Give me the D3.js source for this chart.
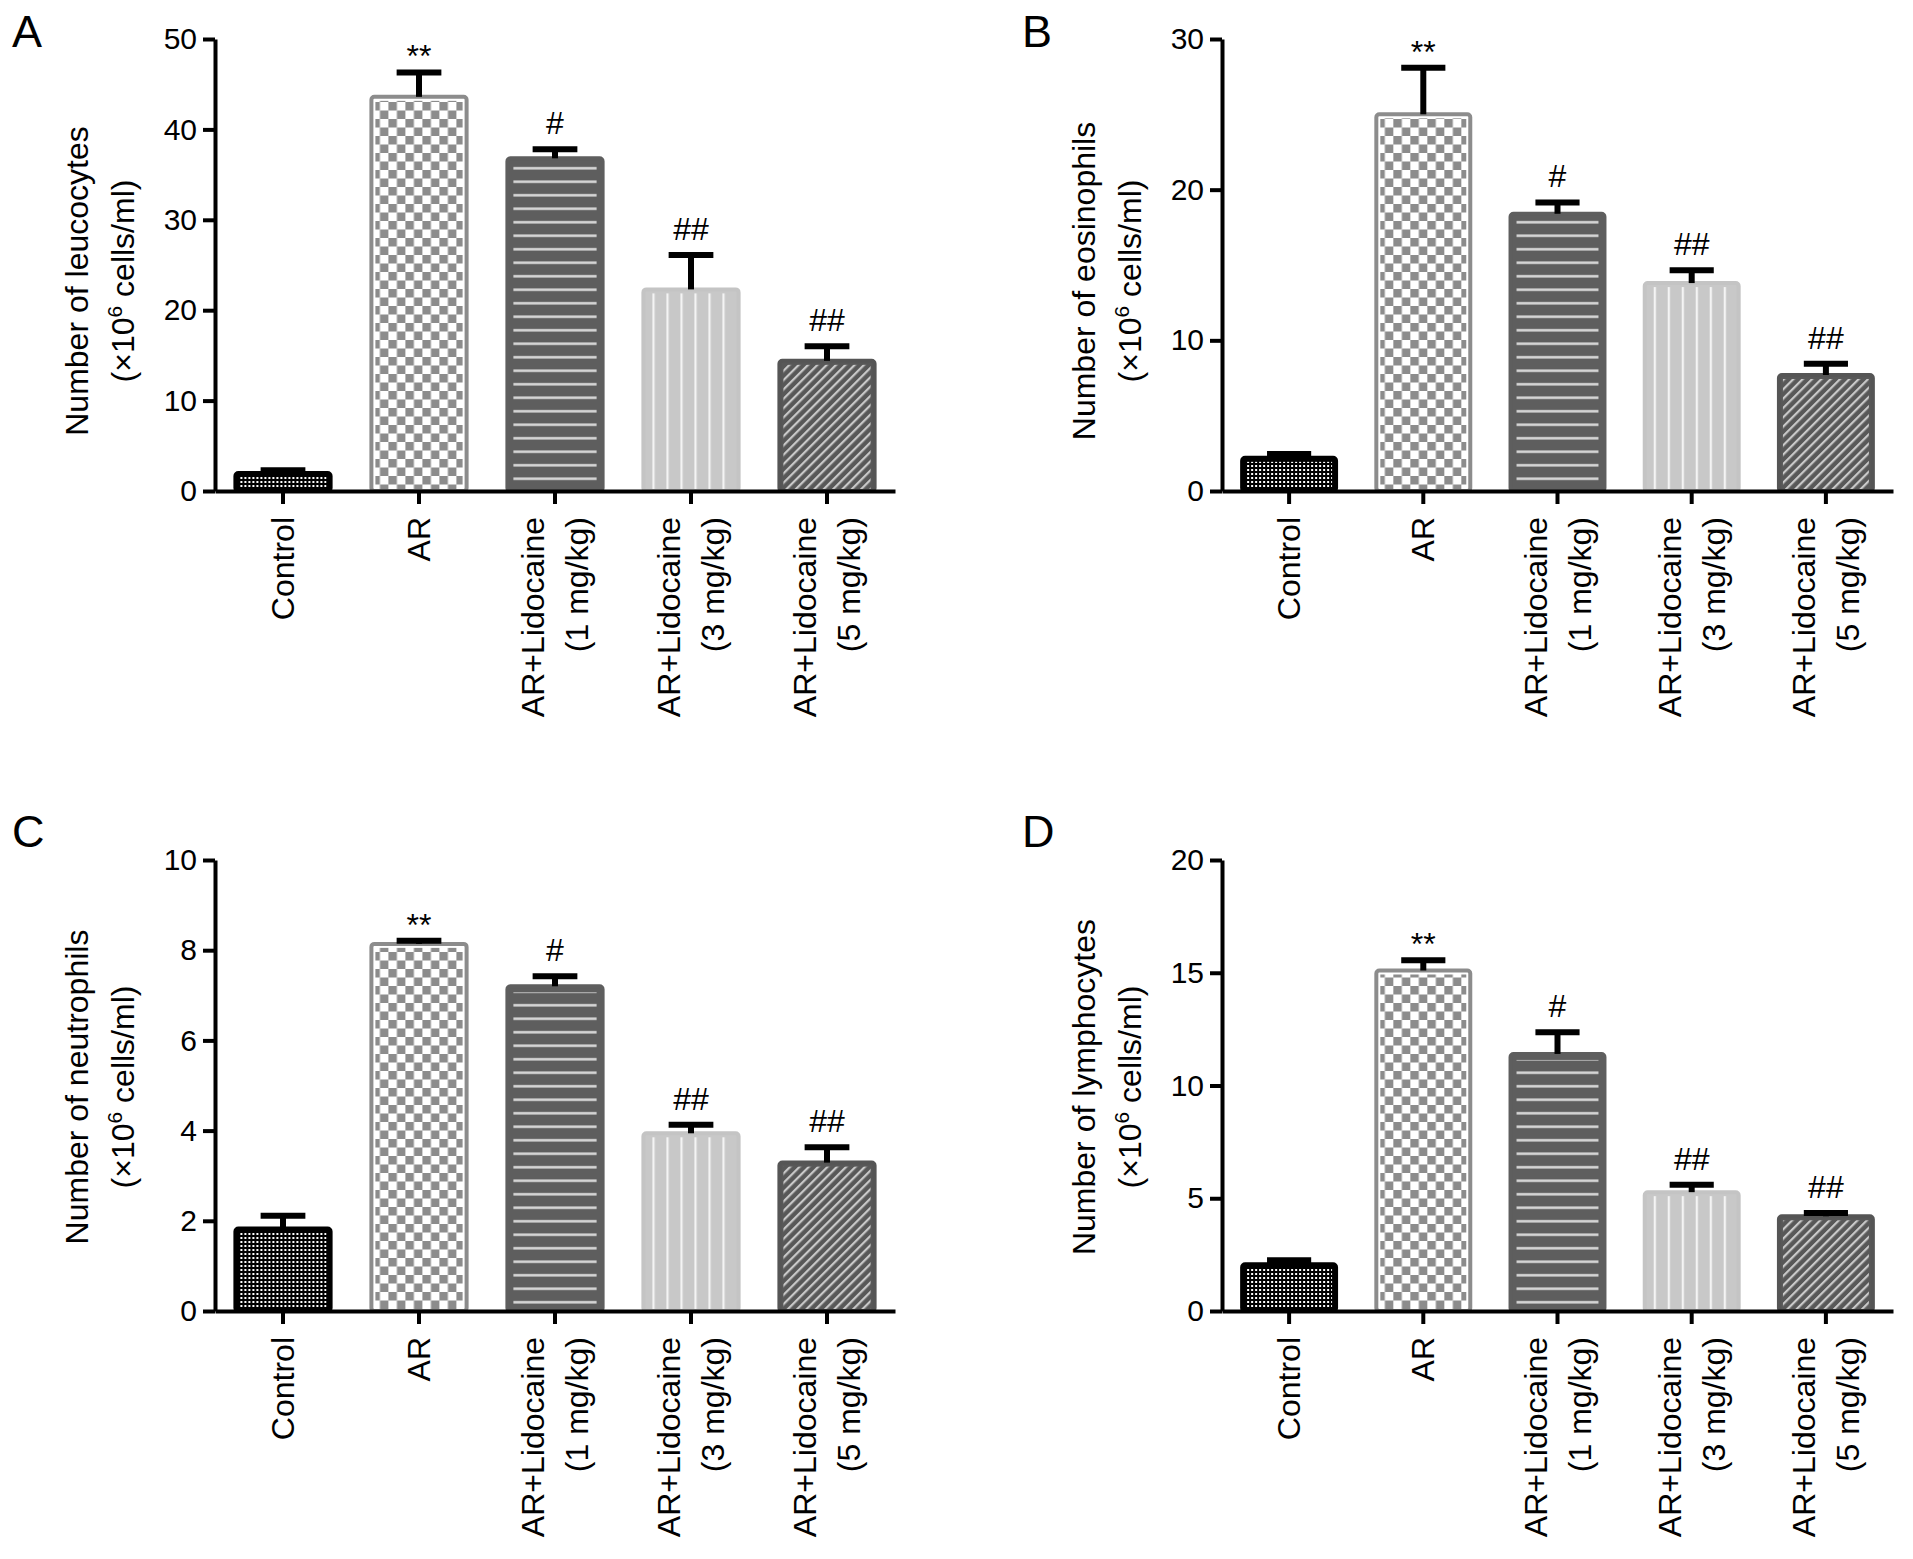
<!DOCTYPE html>
<html>
<head>
<meta charset="utf-8">
<script src="https://cdnjs.cloudflare.com/ajax/libs/d3/7.8.5/d3.min.js"></script>
<style>
  body { margin: 0; background: #fff; }
  svg { display: block; font-family: "Liberation Sans", Arial, sans-serif; }
  .axis path, .axis line { stroke: #000; stroke-width: 4px; }
  .axis text { font-size: 30px; fill: #000; font-family: "Liberation Sans", Arial, sans-serif; }
</style>
</head>
<body>
<div id="chart"></div>
<script>
// ---- data ----
var catLine1 = ["Control", "AR", "AR+Lidocaine", "AR+Lidocaine", "AR+Lidocaine"];
var catLine2 = ["", "", "(1 mg/kg)", "(3 mg/kg)", "(5 mg/kg)"];
var signif = ["", "**", "#", "##", "##"];

var leucoMean = [2.0, 43.6, 36.8, 22.3, 14.4];
var leucoSem  = [0.3, 2.7, 1.0, 3.8, 1.6];
var eosinoMean = [2.2, 25.0, 18.4, 13.8, 7.7];
var eosinoSem  = [0.25, 3.1, 0.75, 0.85, 0.75];
var neutroMean = [1.83, 8.14, 7.2, 3.94, 3.29];
var neutroSem  = [0.28, 0.07, 0.22, 0.19, 0.34];
var lymphoMean = [2.07, 15.1, 11.4, 5.27, 4.2];
var lymphoSem  = [0.18, 0.45, 0.96, 0.33, 0.15];

var leucoTicks = [0, 10, 20, 30, 40, 50];
var eosinoTicks = [0, 10, 20, 30];
var neutroTicks = [0, 2, 4, 6, 8, 10];
var lymphoTicks = [0, 5, 10, 15, 20];

var panelLetters = ["A", "B", "C", "D"];
var yTitles = ["Number of leucocytes", "Number of eosinophils", "Number of neutrophils", "Number of lymphocytes"];

// ---- layout ----
var W = 1913, H = 1559;
var panels = [
  {mean: leucoMean, sem: leucoSem, ticks: leucoTicks, x0: 215, x1: 895, yTop: 39, yBot: 491, labelY: 281},
  {mean: eosinoMean, sem: eosinoSem, ticks: eosinoTicks, x0: 1222, x1: 1893, yTop: 39, yBot: 491, labelY: 281},
  {mean: neutroMean, sem: neutroSem, ticks: neutroTicks, x0: 215, x1: 895, yTop: 860, yBot: 1311, labelY: 1087},
  {mean: lymphoMean, sem: lymphoSem, ticks: lymphoTicks, x0: 1222, x1: 1893, yTop: 860, yBot: 1311, labelY: 1087}
];

// bar styles per group: base fill, border, pattern id, inset of the pattern
var barStyle = [
  {fill: "#000", stroke: "#000", pat: "patCtrl", inset: 4},
  {fill: "#fff", stroke: "#8c8c8c", pat: "patChk", inset: 4},
  {fill: "#5e5e5e", stroke: "#5e5e5e", pat: "patHor", inset: 6},
  {fill: "#c8c8c8", stroke: "#c4c4c4", pat: "patVer", inset: 4},
  {fill: "#585858", stroke: "#555", pat: "patDia", inset: 4}
];

var svg = d3.select("#chart").append("svg")
  .attr("width", W)
  .attr("height", H);

svg.append("rect").attr("width", W).attr("height", H).attr("fill", "#fff");

/* patterns */
var defs = svg.append("defs");
var p = defs.append("pattern").attr("id", "patCtrl").attr("patternUnits", "userSpaceOnUse")
  .attr("width", 4).attr("height", 4);
p.append("rect").attr("width", 4).attr("height", 4).attr("fill", "#000");
p.append("rect").attr("x", 1).attr("y", 1).attr("width", 2).attr("height", 2).attr("fill", "#fff");

p = defs.append("pattern").attr("id", "patChk").attr("patternUnits", "userSpaceOnUse")
  .attr("width", 17).attr("height", 17);
p.append("rect").attr("width", 17).attr("height", 17).attr("fill", "#fff");
p.append("rect").attr("width", 8.5).attr("height", 8.5).attr("fill", "#8c8c8c");
p.append("rect").attr("x", 8.5).attr("y", 8.5).attr("width", 8.5).attr("height", 8.5).attr("fill", "#8c8c8c");

p = defs.append("pattern").attr("id", "patHor").attr("patternUnits", "userSpaceOnUse")
  .attr("width", 10).attr("height", 13.5);
p.append("rect").attr("y", 5).attr("width", 10).attr("height", 2.5).attr("fill", "#dadada");

p = defs.append("pattern").attr("id", "patVer").attr("patternUnits", "userSpaceOnUse")
  .attr("width", 14).attr("height", 10);
p.append("rect").attr("x", 9).attr("width", 2.2).attr("height", 10).attr("fill", "#f4f4f4");

p = defs.append("pattern").attr("id", "patDia").attr("patternUnits", "userSpaceOnUse")
  .attr("width", 6.6).attr("height", 10).attr("patternTransform", "rotate(45)");
p.append("rect").attr("width", 2.2).attr("height", 10).attr("fill", "#c9c9c9");

/* draw panels */
panels.forEach(function(pn, k) {
  var g = svg.append("g");
  var yMax = pn.ticks[pn.ticks.length - 1];
  var y = d3.scaleLinear().domain([0, yMax]).range([pn.yBot, pn.yTop]);
  var x = d3.scaleBand().domain(d3.range(catLine1.length))
    .range([pn.x0, pn.x1]).paddingInner(0.3).paddingOuter(0.15);
  var bw = x.bandwidth();

  // bars
  var bars = g.selectAll(".bar").data(pn.mean).enter().append("g")
    .attr("class", "bar")
    .attr("transform", (d, i) => `translate(${x(i)},0)`);
  bars.append("rect")
    .attr("x", 0).attr("width", bw)
    .attr("y", d => y(d)).attr("height", d => y(0) - y(d))
    .attr("rx", 3)
    .attr("fill", (d, i) => barStyle[i].fill)
    .attr("stroke", (d, i) => barStyle[i].stroke)
    .attr("stroke-width", 4);
  bars.append("rect")
    .attr("x", (d, i) => barStyle[i].inset)
    .attr("width", (d, i) => bw - 2 * barStyle[i].inset)
    .attr("y", (d, i) => y(d) + barStyle[i].inset)
    .attr("height", (d, i) => Math.max(0, y(0) - y(d) - barStyle[i].inset - 2))
    .attr("fill", (d, i) => `url(#${barStyle[i].pat})`);

  // error bars
  var capW = bw * 0.47;
  var err = g.selectAll(".err").data(pn.mean).enter().append("g")
    .attr("class", "err")
    .attr("stroke", "#000").attr("stroke-width", 6);
  err.append("line")
    .attr("x1", (d, i) => x(i) + bw / 2).attr("x2", (d, i) => x(i) + bw / 2)
    .attr("y1", d => y(d)).attr("y2", (d, i) => y(d + pn.sem[i]));
  err.append("line")
    .attr("x1", (d, i) => x(i) + bw / 2 - capW / 2).attr("x2", (d, i) => x(i) + bw / 2 + capW / 2)
    .attr("y1", (d, i) => y(d + pn.sem[i])).attr("y2", (d, i) => y(d + pn.sem[i]));

  // significance marks
  g.selectAll(".sig").data(pn.mean).enter().append("text")
    .attr("class", "sig")
    .attr("x", (d, i) => x(i) + bw / 2)
    .attr("y", (d, i) => y(d + pn.sem[i]) - (signif[i].charAt(0) === "*" ? 5 : 15))
    .attr("text-anchor", "middle")
    .attr("font-size", 32)
    .text((d, i) => signif[i]);

  // axes
  var yAxis = d3.axisLeft(y).tickValues(pn.ticks).tickSize(12).tickSizeOuter(0).tickPadding(6);
  g.append("g").attr("class", "y axis")
    .attr("transform", `translate(${pn.x0},0)`)
    .call(yAxis)
    .call(a => a.selectAll("text").attr("font-size", null).attr("font-family", null));

  var xAxis = d3.axisBottom(x).tickSize(13).tickSizeOuter(0).tickFormat("");
  g.append("g").attr("class", "x axis")
    .attr("transform", `translate(0,${pn.yBot})`)
    .call(xAxis);

  // category labels (rotated)
  var cl = g.selectAll(".cat").data(catLine1).enter().append("g")
    .attr("class", "cat")
    .attr("transform", (d, i) => `translate(${x(i) + bw / 2},${pn.yBot + 26}) rotate(-90)`)
    .attr("font-size", 32)
    .attr("text-anchor", "end");
  cl.append("text")
    .attr("y", (d, i) => catLine2[i] ? -11 : 11)
    .text(d => d);
  cl.append("text")
    .attr("y", 33)
    .text((d, i) => catLine2[i]);

  // y axis title
  var yt = g.append("g")
    .attr("transform", `translate(${pn.x0 - 127},${pn.labelY}) rotate(-90)`)
    .attr("font-size", 32)
    .attr("text-anchor", "middle");
  yt.append("text").attr("y", 0).text(yTitles[k]);
  var t2 = yt.append("text").attr("y", 46);
  t2.append("tspan").text("(\u00d710");
  t2.append("tspan").attr("font-size", 21).attr("dy", -12).text("6");
  t2.append("tspan").attr("dy", 12).text(" cells/ml)");

  // panel letter
  svg.append("text")
    .attr("x", pn.x0 < 600 ? 12 : 1022)
    .attr("y", pn.yTop < 500 ? 47 : 847)
    .attr("font-size", 45)
    .text(panelLetters[k]);
});
</script>
</body>
</html>
